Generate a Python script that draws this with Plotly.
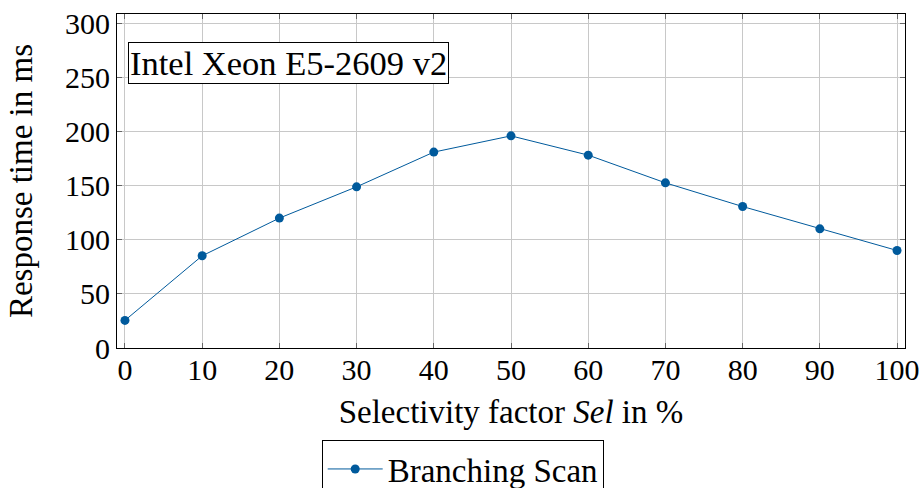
import plotly.graph_objects as go

sel = [0, 10, 20, 30, 40, 50, 60, 70, 80, 90, 100]
resp = [25.5, 85.2, 120, 148.9, 181, 196, 178.2, 152.6, 130.7, 110.1, 90.1]
series_name = "Branching Scan"
x_ticks = [0, 10, 20, 30, 40, 50, 60, 70, 80, 90, 100]
y_ticks = [0, 50, 100, 150, 200, 250, 300]

FONT = "Liberation Serif"
FS = 30
FT = 33
BLUE = "#005a9c"

fig = go.Figure()
fig.add_trace(go.Scatter(
    x=sel, y=resp, name=series_name, mode="lines+markers",
    line=dict(color=BLUE, width=1),
    marker=dict(color=BLUE, size=9),
))

axis_common = dict(
    showline=True, linecolor="black", linewidth=1.2, mirror="ticks",
    ticks="inside", ticklen=5, tickcolor="#666", tickwidth=1,
    showgrid=True, gridcolor="#c8c8c8", gridwidth=1,
    zeroline=False,
    tickfont=dict(family=FONT, size=FS, color="black"),
)

fig.update_xaxes(
    range=[-1.03, 101.03], tickvals=x_ticks, ticklabelstandoff=-5,
    title=dict(text="Selectivity factor <i>Sel</i> in %", font=dict(family=FONT, size=FT, color="black"), standoff=14),
    **axis_common,
)
fig.update_yaxes(
    range=[0, 308.6], tickvals=y_ticks,
    title=dict(text="Response time in ms", font=dict(family=FONT, size=FT, color="black"), standoff=22),
    **axis_common,
)

fig.add_annotation(
    text="Intel Xeon E5-2609 v2", xref="paper", yref="paper",
    x=0.0136, y=0.915, xanchor="left", yanchor="top", showarrow=False,
    font=dict(family=FONT, size=34.5, color="black"),
    bordercolor="black", borderwidth=1, borderpad=1, bgcolor="white",
)

fig.update_layout(
    font=dict(family=FONT),
    width=922, height=488,
    margin=dict(l=117, r=17, t=14, b=140, autoexpand=False),
    paper_bgcolor="white", plot_bgcolor="white",
    showlegend=True,
    legend=dict(
        orientation="h", x=(322 - 117.3) / 788, xanchor="left",
        yref="container", y=1 - 440 / 488, yanchor="top",
        font=dict(family=FONT, size=FT, color="black"),
        bordercolor="black", borderwidth=1, bgcolor="white",
        itemwidth=55,
    ),
)

fig.write_html("out.html")
